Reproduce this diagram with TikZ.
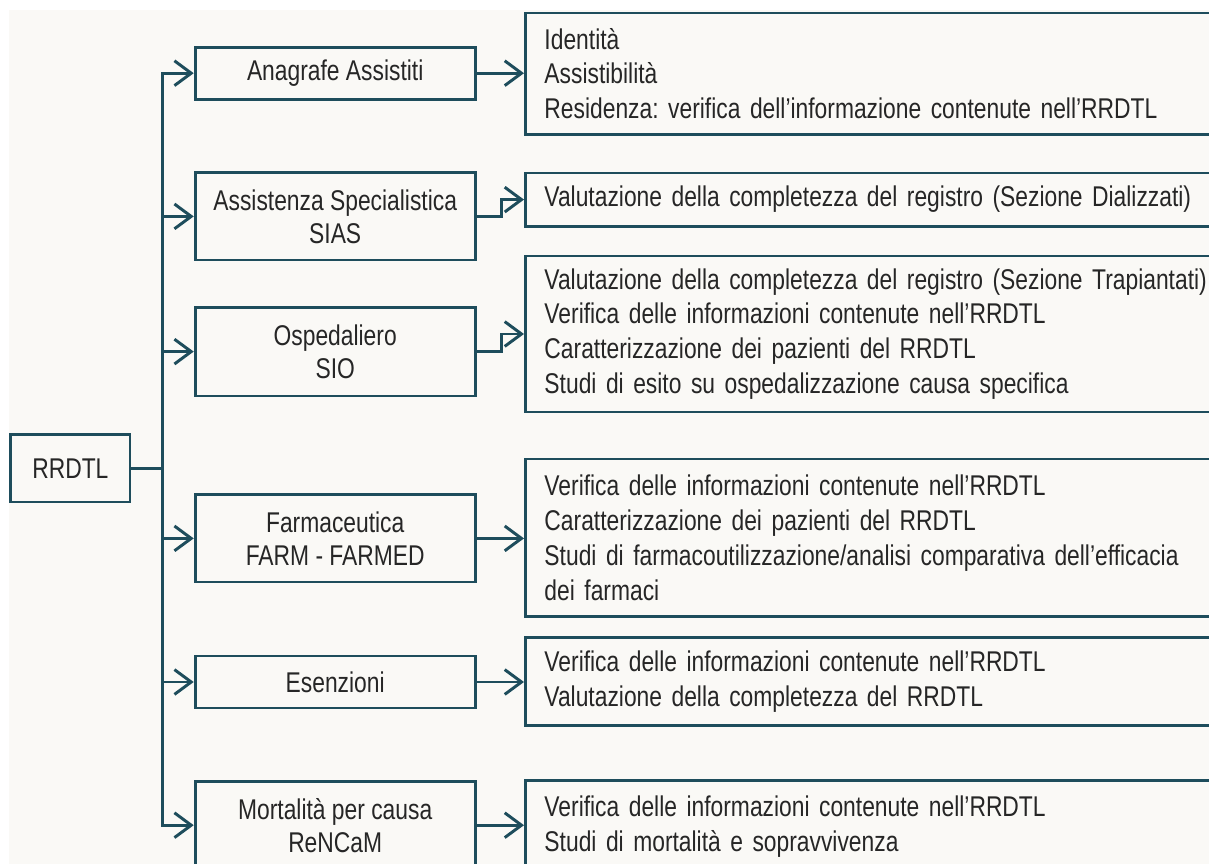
\documentclass[tikz,border=0pt]{standalone}
\usepackage{fontspec}
\setmainfont{Liberation Sans}[FakeStretch=0.80]
\usetikzlibrary{arrows.meta}
\definecolor{linecol}{HTML}{1E4D5C}
\definecolor{textcol}{HTML}{262626}
\definecolor{paper}{HTML}{FAF9F6}
\frenchspacing

\begin{document}
\begin{tikzpicture}[line width=2.1pt,
                       src node/.style={draw=linecol,text=textcol,font=\fontsize{20.3}{24.8}\selectfont,minimum width=2.98cm,minimum height=1.68cm,inner sep=0pt},
                       mid node/.style={draw=linecol,text=textcol,font=\fontsize{20.3}{23.4}\selectfont,minimum width=7.00cm,minimum height=#1,align=center,inner sep=0pt},
                       mid node/.default=1.30cm,
                       info node/.style={draw=linecol,text=textcol,font=\fontsize{20.3}{24.8}\selectfont,anchor=west,text width=17.50cm,inner xsep=0.475cm,inner ysep=0pt,minimum height=#1,align=left},
                       link/.style={draw=linecol,-{Straight Barb[length=0.42cm,width=0.62cm]}}
                      ]
  \clip[use as bounding box] (0,0) rectangle (30.225,-21.60);
  \fill[paper] (0.23,-0.25) rectangle (30.225,-21.60);

  \node[src node] (rrdtl) at (1.76,-11.71) {RRDTL};
  \coordinate (bus) at (4.06,-11.71);

  \node[mid node] (ana) at (8.38,-1.83) {Anagrafe Assistiti};
  \node[mid node=2.18cm] (sias) at (8.38,-5.41) {Assistenza Specialistica\\SIAS};
  \node[mid node=2.22cm] (sio) at (8.38,-8.79) {Ospedaliero\\SIO};
  \node[mid node=2.18cm] (farm) at (8.38,-13.46) {Farmaceutica\\FARM - FARMED};
  \node[mid node] (esen) at (8.38,-17.05) {Esenzioni};
  \node[mid node=2.20cm] (mort) at (8.38,-20.63) {Mortalità per causa\\ReNCaM};

  \node[info node=3.03cm] (r1) at (13.10,-1.84) {Identità\\Assistibilità\\Residenza: verifica dell’informazione contenute nell’RRDTL};
  \node[info node=1.33cm] (r2) at (13.10,-4.99) {Valutazione della completezza del registro (Sezione Dializzati)};
  \node[info node=3.90cm] (r3) at (13.10,-8.35) {Valutazione della completezza del registro (Sezione Trapiantati)\\Verifica delle informazioni contenute nell’RRDTL\\Caratterizzazione dei pazienti del RRDTL\\Studi di esito su ospedalizzazione causa specifica};
  \node[info node=3.93cm] (r4) at (13.10,-13.44) {Verifica delle informazioni contenute nell’RRDTL\\Caratterizzazione dei pazienti del RRDTL\\Studi di farmacoutilizzazione/analisi comparativa dell’efficacia\\dei farmaci};
  \node[info node=2.20cm] (r5) at (13.10,-17.03) {Verifica delle informazioni contenute nell’RRDTL\\Valutazione della completezza del RRDTL};
  \node[info node=2.28cm] (r6) at (13.10,-20.66) {Verifica delle informazioni contenute nell’RRDTL\\Studi di mortalità e sopravvivenza};

  \draw[linecol] (rrdtl.east) -- (bus);
  \foreach \m in {ana,sias,sio,farm,esen,mort}
    \draw[link] (bus) |- (\m.west);

  \draw[link] (ana.east) -- (ana.east -| r1.west);
  \draw[link] (sias.east) -- ++(0.63,0) |- (r2.west);
  \draw[link] (sio.east) -- ++(0.63,0) |- (r3.west);
  \draw[link] (farm.east) -- (farm.east -| r4.west);
  \draw[link] (esen.east) -- (esen.east -| r5.west);
  \draw[link] (mort.east) -- (mort.east -| r6.west);
\end{tikzpicture}
\end{document}
